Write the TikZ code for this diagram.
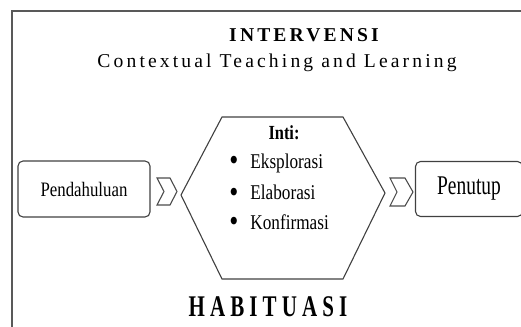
\documentclass[tikz,border=0pt]{standalone}
\usepackage{fontspec}
\setmainfont{Liberation Serif}
\newfontfamily\narrowfont[FakeStretch=0.82]{Liberation Serif}
\newfontfamily\closingfont[FakeStretch=0.72]{Liberation Serif}
\newfontfamily\spacedfont[LetterSpace=16]{Liberation Serif}
\newfontfamily\habitfont[FakeStretch=0.7,LetterSpace=17]{Liberation Serif}
\usetikzlibrary{positioning}
\newcommand{\itemdot}{\makebox[21pt][l]{\raisebox{-2.6pt}[0pt][0pt]{\scalebox{1.5}{\textbullet}}}}

\begin{document}
\begin{tikzpicture}[x=1pt, y=-1pt, thick]
        % Estilos
        \tikzset{
          frame/.style = {draw=black!65, line width=2pt},
          stage/.style = {draw=black!75, line width=1.1pt, rounded corners=5pt, inner sep=0pt},
          core/.style = {draw=black!75, line width=1.1pt},
          chevron/.style = {draw=black!70, line width=1.1pt, fill=white},
          heading/.style = {inner sep=0pt, font=\spacedfont\fontsize{19.6}{22}\selectfont},
          itemtext/.style = {inner sep=0pt, anchor=west, font=\narrowfont\fontsize{21}{24}\selectfont}
        }

        \clip (0,0) rectangle (521,326);

        % Marco exterior
        \draw [frame] (12,340) -- (12,11) -- (540,11);

        % Titulos
        \node [heading, font=\spacedfont\bfseries\fontsize{19.6}{22}\selectfont] (intervensi) at (304,35) {INTERVENSI};
        \node [heading] (ctl) at (277,63) {Contextual Teaching and Learning};
        \node [inner sep=0pt, font=\habitfont\bfseries\fontsize{30}{34}\selectfont] (habituasi) at (268,307) {HABITUASI};

        % Bloques
        \node [stage, minimum width=132pt, minimum height=56pt, font=\narrowfont\fontsize{20.5}{24}\selectfont] (pendahuluan) at (84,189) {Pendahuluan};
        \node [stage, minimum width=107pt, minimum height=55pt, font=\closingfont\fontsize{27}{30}\selectfont] (penutup) at (469,189) {Penutup};

        % Hexagono central
        \coordinate (hexTL) at (222,117);
        \coordinate (hexTR) at (343,117);
        \coordinate (hexR) at (385,193);
        \coordinate (hexBR) at (343,279);
        \coordinate (hexBL) at (222,279);
        \coordinate (hexL) at (181,195);
        \draw [core] (hexTL) -- (hexTR) -- (hexR) -- (hexBR) -- (hexBL) -- (hexL) -- cycle;

        \node [inner sep=0pt, font=\narrowfont\bfseries\fontsize{20}{24}\selectfont] (inti) at (284,133) {Inti:};
        \node [itemtext] (eksplorasi) at (229,163) {\itemdot Eksplorasi};
        \node [itemtext, on grid, below=29.5pt of eksplorasi.west, anchor=west] (elaborasi) {\itemdot Elaborasi};
        \node [itemtext, on grid, below=29.5pt of elaborasi.west, anchor=west] (konfirmasi) {\itemdot Konfirmasi};

        % Flechas (chevrones)
        \draw [chevron] (157,178) -- (170,178) -- (177,191.5) -- (170,205) -- (157,205) -- (164,191.5) -- cycle;
        \draw [chevron] (390,178) -- (405,178) -- (413,192) -- (405,206) -- (390,206) -- (397,192) -- cycle;
      \end{tikzpicture}
\end{document}
